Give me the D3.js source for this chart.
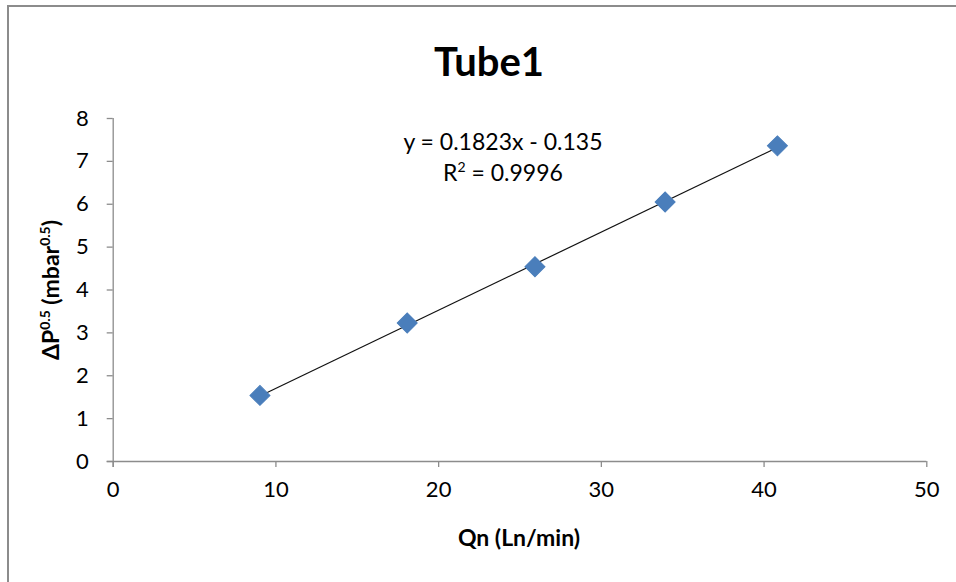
<!DOCTYPE html>
<html>
<head>
<meta charset="utf-8">
<script src="https://cdn.jsdelivr.net/npm/d3@7"></script>
<style>
  html, body { margin: 0; padding: 0; background: #fff; }
  svg { display: block; }
  text { font-family: Lato, "Noto Sans", sans-serif; fill: #000; }
</style>
</head>
<body>
<script>
// ---- data ----
const title = "Tube1";
const qn = [9.05, 18.1, 25.95, 33.95, 40.85];          // Qn (Ln/min)
const dp = [1.53, 3.22, 4.53, 6.04, 7.35];              // ΔP^0.5 (mbar^0.5)
const xTicks = [0, 10, 20, 30, 40, 50];
const yTicks = [0, 1, 2, 3, 4, 5, 6, 7, 8];
const slope = 0.1823, intercept = -0.135;
const eqLabel = "y = 0.1823x - 0.135";
const r2Value = "0.9996";

const W = 956, H = 582;
const svg = d3.select("body").append("svg").attr("width", W).attr("height", H);

// outer chart border (continues past right/bottom edges)
svg.append("rect").attr("x", 8).attr("y", 6).attr("width", W + 20).attr("height", H + 20)
  .attr("fill", "#fff").attr("stroke", "#8c8c8c").attr("stroke-width", 2);

const x = d3.scaleLinear().domain([0, 50]).range([112.7, 926.3]);
const y = d3.scaleLinear().domain([0, 8]).range([461, 118]);

const axisColor = "#8c8c8c";

// x axis
const gx = svg.append("g").attr("transform", `translate(0,${y(0)})`)
  .call(d3.axisBottom(x).tickValues(xTicks).tickSize(6).tickSizeOuter(0).tickPadding(14));
gx.select(".domain").attr("stroke", axisColor).attr("stroke-width", 1.3)
  .attr("d", `M${x(0) - 6},0.5H${x(50)}`);
gx.selectAll(".tick line").attr("stroke", axisColor).attr("stroke-width", 1.3);
gx.selectAll(".tick text").attr("font-size", 22).attr("fill", "#1a1a1a").attr("font-family", "Lato");

// y axis
const gy = svg.append("g").attr("transform", `translate(${x(0)},0)`)
  .call(d3.axisLeft(y).tickValues(yTicks).tickSize(6).tickSizeOuter(0).tickPadding(18));
gy.select(".domain").attr("stroke", axisColor).attr("stroke-width", 1.3)
  .attr("d", `M0.5,${y(8)}V${y(0) + 6}`);
gy.selectAll(".tick line").attr("stroke", axisColor).attr("stroke-width", 1.3);
gy.selectAll(".tick text").attr("font-size", 22).attr("fill", "#1a1a1a").attr("font-family", "Lato");

// title
svg.append("text").attr("x", 489).attr("y", 76).attr("text-anchor", "middle")
  .attr("font-size", 40).attr("font-weight", "bold").text(title);

// x axis title
svg.append("text").attr("x", 519).attr("y", 546).attr("text-anchor", "middle")
  .attr("font-size", 23).attr("font-weight", "bold").text("Qn (Ln/min)");

// y axis title
const yt = svg.append("text").attr("transform", "translate(59,290) rotate(-90)")
  .attr("text-anchor", "middle").attr("font-size", 23).attr("font-weight", "bold");
yt.append("tspan").text("ΔP");
yt.append("tspan").attr("font-size", 14).attr("dy", -9).text("0.5");
yt.append("tspan").attr("dy", 9).text(" (mbar");
yt.append("tspan").attr("font-size", 14).attr("dy", -9).text("0.5");
yt.append("tspan").attr("dy", 9).text(")");

// trendline
const xMin = d3.min(qn), xMax = d3.max(qn);
svg.append("line")
  .attr("x1", x(xMin)).attr("y1", y(slope * xMin + intercept))
  .attr("x2", x(xMax)).attr("y2", y(slope * xMax + intercept))
  .attr("stroke", "#111").attr("stroke-width", 1.2);

// markers
const pts = qn.map((v, i) => [v, dp[i]]);
svg.append("g").selectAll("path").data(pts).join("path")
  .attr("d", d3.symbol(d3.symbolSquare, 200)())
  .attr("transform", d => `translate(${x(d[0])},${y(d[1])}) rotate(45)`)
  .attr("fill", "#4a7ebb").attr("stroke", "#4a7ebb").attr("stroke-width", 1);

// equation
svg.append("text").attr("x", 503).attr("y", 150).attr("text-anchor", "middle")
  .attr("font-size", 23).attr("fill", "#1a1a1a").text(eqLabel);
const r2 = svg.append("text").attr("x", 503).attr("y", 181).attr("text-anchor", "middle")
  .attr("font-size", 23).attr("fill", "#1a1a1a");
r2.append("tspan").text("R");
r2.append("tspan").attr("font-size", 14).attr("dy", -9).text("2");
r2.append("tspan").attr("dy", 9).text(" = " + r2Value);
</script>
</body>
</html>
